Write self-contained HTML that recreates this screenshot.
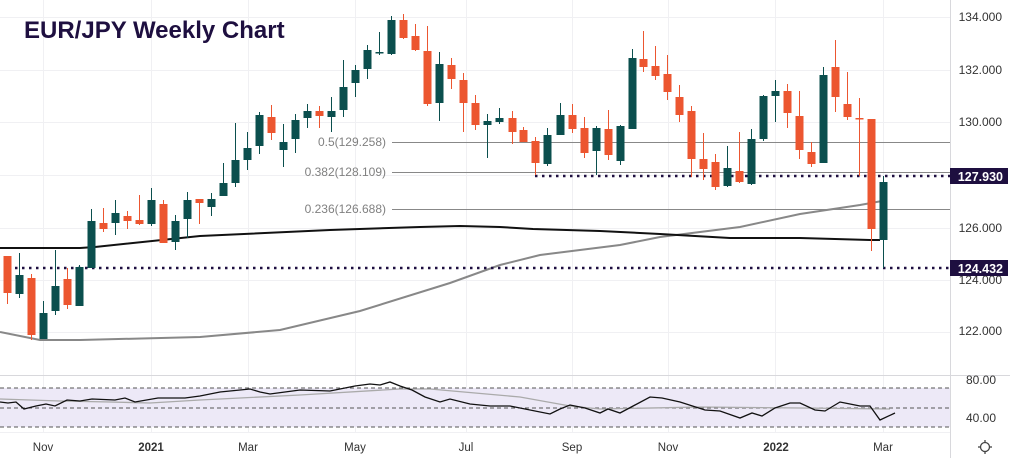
<!DOCTYPE html>
<html><head><meta charset="utf-8"><style>
html,body{margin:0;padding:0;background:#fff;width:1010px;height:458px;overflow:hidden}
svg{display:block;font-family:"Liberation Sans",sans-serif}
</style></head><body>
<svg id="s" width="1010" height="458" viewBox="0 0 1010 458">
<rect width="1010" height="458" fill="#fff"/>
<g id="grid" stroke="#f0f0f3" stroke-width="1"></g>
<rect x="0" y="388" width="950" height="39" fill="#ede9f7"/>
<g stroke="#555" stroke-width="1" stroke-dasharray="4,3">
<line x1="0" y1="388" x2="950" y2="388"/><line x1="0" y1="408" x2="950" y2="408"/><line x1="0" y1="427" x2="950" y2="427"/>
</g>
<line x1="0" y1="375.5" x2="1010" y2="375.5" stroke="#d8d8dc"/>
<line x1="950.5" y1="0" x2="950.5" y2="458" stroke="#d8d8dc"/>
<g stroke="#888" stroke-width="1">
<line x1="392" y1="142.5" x2="950" y2="142.5"/><line x1="392" y1="172.5" x2="950" y2="172.5"/><line x1="392" y1="209.5" x2="950" y2="209.5"/>
</g>
<g fill="#808080" font-size="12" text-anchor="end">
<text x="386" y="146">0.5(129.258)</text><text x="386" y="176">0.382(128.109)</text><text x="386" y="213">0.236(126.688)</text>
</g>
<polyline fill="none" stroke="#888" stroke-width="2" points="0,332 40,340 80,340 200,337 280,330 360,311 450,283 500,265 540,255 620,245 660,237 740,227 800,214 860,205 882,201"/>
<polyline fill="none" stroke="#111" stroke-width="2" points="0,248 80,248 95,247 200,236 330,230 420,227 460,226 500,227 533,229 600,231 660,234 730,238 800,238 870,240 880,240"/>
<g stroke="#1e0f40" stroke-width="2.5" stroke-dasharray="2.5,4.5">
<line x1="535" y1="176" x2="950" y2="176"/><line x1="15" y1="268" x2="950" y2="268"/>
</g>
<g id="c"></g>
<polyline fill="none" stroke="#aaa" stroke-width="1.3" points="0,399 60,401 110,402 150,403 200,400 300,395 400,389 430,389 520,397 570,406 600,409 700,407 800,408 890,409"/>
<polyline fill="none" stroke="#111" stroke-width="1.3" points="0,402 8,403 16,402 24,409 36,406 46,404 55,406 67,400 80,401 92,399 115,400 125,398 135,402 158,398 185,398 200,396 220,392 250,389 260,392 270,394 300,390 330,391 355,386 370,384 380,385 390,382 400,386 412,390 425,397 440,402 450,399 470,404 490,406 510,406 550,414 560,409 570,405 585,408 600,413 608,409 620,413 635,405 650,397 662,398 680,402 705,410 720,411 740,418 752,413 762,416 775,408 790,403 800,403 815,410 825,411 840,402 850,404 860,406 870,406 880,420 895,413"/>
<text x="24" y="38" font-size="24" font-weight="bold" fill="#1e0f40">EUR/JPY Weekly Chart</text>
<g fill="#333" font-size="12" text-anchor="end">
<text x="1002" y="21">134.000</text><text x="1002" y="74">132.000</text><text x="1002" y="126">130.000</text><text x="1002" y="232">126.000</text><text x="1002" y="284">124.000</text><text x="1002" y="335">122.000</text>
<text x="996" y="384">80.00</text><text x="996" y="422">40.00</text>
</g>
<rect x="950" y="168" width="58" height="16" fill="#1e0f40"/><text x="1003" y="181" fill="#fff" font-size="12.5" font-weight="bold" text-anchor="end">127.930</text>
<rect x="950" y="260" width="58" height="16" fill="#1e0f40"/><text x="1003" y="273" fill="#fff" font-size="12.5" font-weight="bold" text-anchor="end">124.432</text>
<g fill="#333" font-size="11.5" text-anchor="middle">
<text x="43" y="451">Nov</text><text x="151" y="451" font-weight="bold">2021</text><text x="248" y="451">Mar</text><text x="355" y="451">May</text><text x="466" y="451">Jul</text><text x="572" y="451">Sep</text><text x="668" y="451">Nov</text><text x="776" y="451" font-weight="bold">2022</text><text x="883" y="451">Mar</text>
</g>
<g stroke="#444" fill="none" stroke-width="1.3"><circle cx="985" cy="447" r="4.5"/><line x1="985" y1="440" x2="985" y2="442"/><line x1="985" y1="452" x2="985" y2="454"/><line x1="978" y1="447" x2="980" y2="447"/><line x1="990" y1="447" x2="992" y2="447"/></g>
</svg>
<script>
var NS="http://www.w3.org/2000/svg";
function el(p,t,a){var e=document.createElementNS(NS,t);for(var k in a)e.setAttribute(k,a[k]);p.appendChild(e);return e;}
var g=document.getElementById('grid');
[43,151,248,355,466,572,668,775,883].forEach(function(x){el(g,'line',{x1:x+.5,y1:0,x2:x+.5,y2:432});});
[17,70,122,175,228,280,332].forEach(function(y){el(g,'line',{x1:0,y1:y+.5,x2:950,y2:y+.5});});
el(g,'line',{x1:0,y1:432.5,x2:950,y2:432.5});
// x, color(r/g), bodyTop, bodyBot, wickTop, wickBot
var C=[[7,'r',256,293,256,304],[19,'g',275,294,253,298],[31,'r',278,335,274,340],[43,'g',313,339,301,339],[55,'g',286,311,250,315],[67,'r',279,305,268,309],[79,'g',267,306,265,306],
[91,'g',221,268,209,268],[103,'r',223,229,208,232],[115,'g',213,223,200,235],[127,'r',216,221,211,229],[139,'r',220,224,195,225],[151,'g',200,224,188,226],[163,'r',204,243,200,243],[175,'g',221,242,215,250],[187,'g',200,219,192,238],[199,'r',199,203,199,224],[211,'g',199,207,193,216],[223,'g',183,196,163,196],[235,'g',160,183,123,187],[247,'g',148,160,132,170],[259,'g',115,146,112,154],[271,'r',117,133,105,140],[283,'g',142,150,124,167],[295,'g',120,139,114,153],[307,'g',111,118,104,128],[319,'r',111,116,106,128],[331,'g',111,117,97,132],[343,'g',87,110,60,117],[355,'g',70,83,65,97],[367,'g',50,69,45,79],[379,'g',52,53,32,55],[391,'g',20,54,16,55],[403,'r',20,38,14,39],[415,'r',36,50,24,51],[427,'r',51,104,26,106],[439,'g',64,103,52,121],[451,'r',65,79,58,89],[463,'r',80,103,73,132],[475,'r',103,125,95,130],[487,'g',121,125,114,158],[499,'g',118,122,108,124],
[512,'r',118,132,111,144],[523,'r',130,142,127,142],[535,'r',141,163,137,175],[547,'g',135,164,128,166],[560,'g',115,135,103,135],[572,'r',115,129,104,133],[584,'r',128,153,117,158],[596,'g',128,151,126,175],[608,'r',129,155,110,160],[620,'g',126,161,125,165],[632,'g',58,129,49,129],[643,'r',59,67,31,72],[655,'r',66,76,46,80],[667,'r',74,92,55,100],[679,'r',97,115,85,122],[691,'r',111,159,106,177],[703,'r',159,169,133,180],[715,'r',162,187,154,190],[727,'g',168,186,146,187],[739,'r',171,182,132,183],[751,'g',139,184,129,185],[763,'g',96,139,95,141],[775,'g',91,96,80,122],[787,'r',91,113,84,128],[799,'r',116,150,91,159],[811,'r',152,164,142,167],[823,'g',75,163,67,163],[835,'r',67,97,40,112],[847,'r',104,117,72,120],[859,'r',118,119,98,176],[871,'r',119,229,119,251],[883,'g',182,240,176,268]];
var cg=document.getElementById('c');
C.forEach(function(c){var col=c[1]=='r'?'#ec5630':'#0b4f4e';
el(cg,'line',{x1:c[0]+.5,y1:c[4],x2:c[0]+.5,y2:c[5],stroke:col,'stroke-width':1});
el(cg,'rect',{x:c[0]-3.5,y:c[2],width:8,height:Math.max(1.5,c[3]-c[2]),fill:col});});
</script>
</body></html>
